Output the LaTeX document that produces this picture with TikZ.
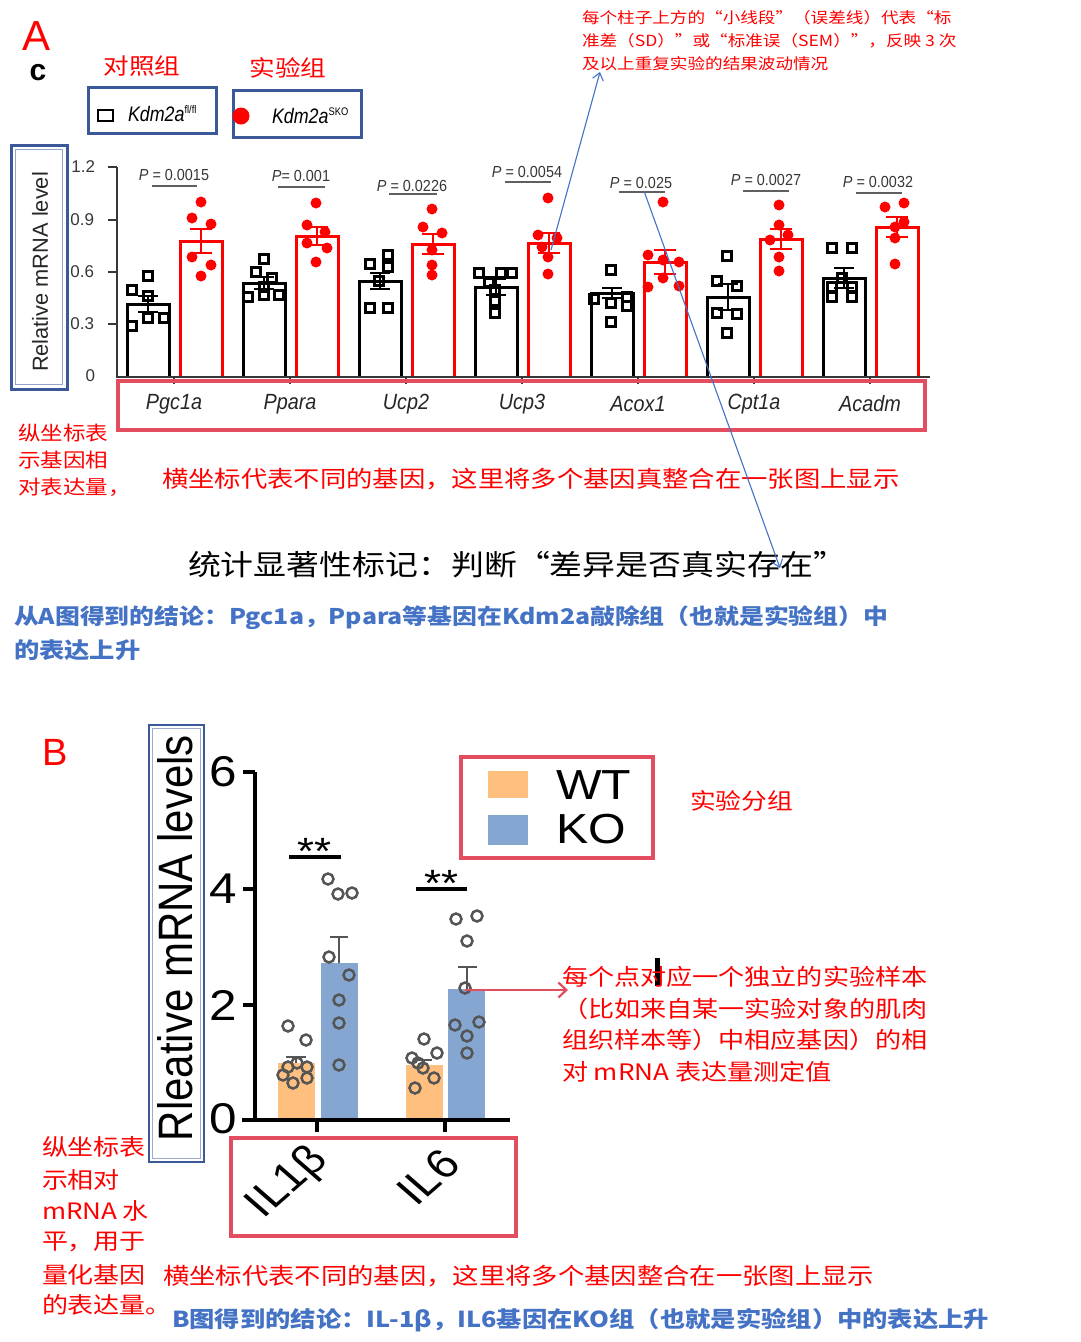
\documentclass[tikz,border=0pt]{standalone}
\usepackage{fontspec}
\setmainfont{Liberation Sans}
\newfontfamily\cjk{Noto Sans CJK SC}
\usetikzlibrary{arrows.meta}
\definecolor{boxred}{RGB}{226,78,96}
\definecolor{boxblue}{RGB}{59,89,152}
\definecolor{txtblue}{RGB}{68,114,196}
\definecolor{wtorange}{RGB}{255,191,127}
\definecolor{kobar}{RGB}{133,166,209}
\definecolor{ptgray}{RGB}{85,85,85}
\definecolor{axgray}{RGB}{55,55,55}
\newcommand\fsz[1]{\fontsize{#1}{#1}\selectfont}
\newcommand\grpA[5]{%
  \draw[black,line width=3,line join=miter] (#1-47,376) -- (#1-47,#2) -- (#1-5,#2) -- (#1-5,376);
  \draw[black,line width=2.5] (#1-26,#2-#3) -- (#1-26,#2+#3) (#1-36,#2-#3) -- (#1-16,#2-#3) (#1-36,#2+#3) -- (#1-16,#2+#3);
  \draw[red,line width=3,line join=miter] (#1+6,376) -- (#1+6,#4) -- (#1+48,#4) -- (#1+48,376);
  \draw[red,line width=2.5] (#1+27,#4-#5) -- (#1+27,#4+#5) (#1+16,#4-#5) -- (#1+38,#4-#5) (#1+16,#4+#5) -- (#1+38,#4+#5);
}
\begin{document}
\begin{tikzpicture}[x=1pt,y=-1pt,
  lbl/.style={inner sep=0pt,outer sep=0pt},
  st/.style={lbl,xscale=1.15},
  redline/.style={st,text=red,anchor=west},
  pval/.style={lbl,font=\fsz{16},xscale=0.9,text=axgray},
  pline/.style={draw=axgray!80,line width=1.2},
  gene/.style={lbl,font=\itshape\fsz{22},xscale=0.9,text=black!85},
  sqmark/.style={black,line width=2.2},
  circmark/.style={ptgray,line width=2.5},
  bluearrow/.style={txtblue,line width=1.1,-{Straight Barb[length=7pt,width=11pt]}},
  bticks/.style={lbl,font=\fsz{43},xscale=1.15},
]
\useasboundingbox (0,0) rectangle (1080,1342);
\fill[white] (0,0) rectangle (1080,1342);

%================ PANEL A =================
\node[lbl,text=red,font=\fsz{42}] (labA) at (37,36) {A};
\node[lbl,font=\bfseries\fsz{30}] (labc) at (38,73) {c};
\node[st,text=red,font=\cjk\fsz{22.3}] (ctrl) at (142,66) {对照组};
\node[st,text=red,font=\cjk\fsz{22.3}] (expg) at (288,68) {实验组};

% legend
\draw[boxblue,line width=3] (88,87) rectangle (216,133);
\draw[sqmark] (98,110) rectangle (113,121);
\node[lbl,anchor=west,font=\itshape\fsz{21},xscale=0.85] (leg1) at (128,114) {Kdm2a\raisebox{8pt}{\upshape\fsz{11}fl/fl}};
\draw[boxblue,line width=3] (233,90) rectangle (361,137);
\fill[red] (241,116) circle (8.5pt);
\node[lbl,anchor=west,font=\itshape\fsz{21},xscale=0.85] (leg2) at (272,116) {Kdm2a\raisebox{8pt}{\upshape\fsz{11}SKO}};

% axes
\draw[axgray,line width=1.5] (117,167) -- (117,377) -- (930,377);
\foreach \yy in {167,220,272,324} \draw[axgray,line width=1.5] (108,\yy) -- (117,\yy);
\foreach \xx in {174,290,406,522,638,754,870} \draw[axgray,line width=1.5] (\xx,377) -- (\xx,384);
\node[lbl,anchor=east,font=\fsz{17},text=axgray] (y12) at (95,167) {1.2};
\node[lbl,anchor=east,font=\fsz{17},text=axgray] (y09) at (94,220) {0.9};
\node[lbl,anchor=east,font=\fsz{17},text=axgray] (y06) at (94,272) {0.6};
\node[lbl,anchor=east,font=\fsz{17},text=axgray] (y03) at (94,324) {0.3};
\node[lbl,anchor=east,font=\fsz{17},text=axgray] (y00) at (95,376) {0};

% y label box A
\draw[boxblue,line width=3,fill=white] (11,145) rectangle (67,389);
\draw[boxblue!55,line width=1] (15.5,149.5) rectangle (62.5,384.5);
\node[lbl,rotate=90,font=\fsz{21.8},text=black!85] (ylabA) at (40,272) {Relative mRNA level};

% bars
\grpA{174}{304}{8}{241}{12}
\grpA{290}{283}{6}{236}{9}
\grpA{406}{281}{8}{244}{10}
\grpA{522}{287}{8}{243}{10}
\grpA{638}{293}{5}{262}{12}
\grpA{754}{297}{13}{239}{10}
\grpA{870}{278}{10}{227}{10}

% black squares
\foreach \x/\y in {148/276,132/290,148/296,132/326,148/318,164/318,
  264/259,256/272,272/278,264/287,248/297,264/295,279/295,
  388/255,370/264,388/267,379/281,370/308,388/308,
  479/273,489/282,501/273,512/273,495/301,495/313,495/290,
  611/270,594/299,611/303,627/297,627/306,611/322,
  727/256,717/281,737/286,717/313,737/314,727/333,
  832/248,852/248,832/287,852/287,832/297,852/297,842/278}
  \draw[sqmark] (\x-4.5,\y-4.5) rectangle (\x+4.5,\y+4.5);
% red dots
\foreach \x/\y in {201/202,192/218,211/224,192/257,211/265,201/276,
  316/203,307/225,325/232,307/243,327/248,316/262,
  432/209,423/227,442/233,432/250,432/265,432/275,
  548/198,538/235,557/238,542/247,548/257,548/274,
  663/202,648/255,663/260,679/262,663/278,648/287,679/286,
  779/205,779/225,770/240,788/235,779/257,779/271,
  885/207,904/203,904/222,895/227,895/238,895/264}
  \fill[red] (\x,\y) circle (5.5pt);

% p values
\node[pval] (p1) at (174,175) {\textit{P} = 0.0015};
\draw[pline] (152,186) -- (197,186);
\node[pval] (p2) at (301,176) {\textit{P}= 0.001};
\draw[pline] (278,187) -- (325,187);
\node[pval] (p3) at (412,186) {\textit{P} = 0.0226};
\draw[pline] (389,194) -- (437,194);
\node[pval] (p4) at (527,172) {\textit{P} = 0.0054};
\draw[pline] (505,182) -- (551,182);
\node[pval] (p5) at (641,183) {\textit{P} = 0.025};
\draw[pline] (619,192) -- (665,192);
\node[pval] (p6) at (766,180) {\textit{P} = 0.0027};
\draw[pline] (743,191) -- (789,191);
\node[pval] (p7) at (878,182) {\textit{P} = 0.0032};
\draw[pline] (856,193) -- (902,193);

% gene box
\draw[boxred,line width=4] (118,381) rectangle (925,430);
\node[gene] (g1) at (174,404) {Pgc1a};
\node[gene] (g2) at (290,404) {Ppara};
\node[gene] (g3) at (406,404) {Ucp2};
\node[gene] (g4) at (522,404) {Ucp3};
\node[gene] (g5) at (638,404) {Acox1};
\node[gene] (g6) at (754,404) {Cpt1a};
\node[gene] (g7) at (870,404) {Acadm};

% annotations A
\node[redline,font=\cjk\fsz{15.3}] (n1a) at (582,18) {每个柱子上方的“小线段”（误差线）代表“标};
\node[redline,font=\cjk\fsz{15.3}] (n1b) at (582,41) {准差（SD）”或“标准误（SEM）”，反映 3 次};
\node[redline,font=\cjk\fsz{15.3}] (n1c) at (582,64) {及以上重复实验的结果波动情况};

\node[redline,font=\cjk\fsz{19.6}] (n2a) at (18,433) {纵坐标表};
\node[redline,font=\cjk\fsz{19.6}] (n2b) at (18,460) {示基因相};
\node[redline,font=\cjk\fsz{19.6}] (n2c) at (18,487) {对表达量，};

\node[redline,font=\cjk\fsz{22.9}] (n3) at (162,479) {横坐标代表不同的基因，这里将多个基因真整合在一张图上显示};
\node[st,font=\cjk\fsz{28.6}] (n4) at (517,565) {统计显著性标记：判断“差异是否真实存在”};
\node[st,anchor=west,text=txtblue,font=\cjk\bfseries\fsz{21.6}] (n5a) at (14,618) {从A图得到的结论：Pgc1a，Ppara等基因在Kdm2a敲除组（也就是实验组）中};
\node[st,anchor=west,text=txtblue,font=\cjk\bfseries\fsz{22}] (n5b) at (14,650) {的表达上升};

% blue arrows
\coordinate (e1) at (551,250);
\coordinate (t1) at (600,72);
\draw[bluearrow] (e1) -- (t1);
\coordinate (e2) at (644,191);
\coordinate (t2) at (780,568);
\draw[bluearrow] (e2) -- (t2);

%================ PANEL B =================
\node[lbl,text=red,font=\fsz{38}] (labB) at (55,752) {B};

% bars
\fill[wtorange] (278,1063) rectangle (315,1120);
\fill[kobar] (321,963) rectangle (358,1120);
\fill[wtorange] (406,1065) rectangle (443,1120);
\fill[kobar] (448,989) rectangle (485,1120);

% error bars
\draw[ptgray,line width=2.5] (339,963) -- (339,937) (330,937) -- (348,937);
\draw[ptgray,line width=2.5] (296,1063) -- (296,1057) (286,1057) -- (306,1057);
\draw[ptgray,line width=2.5] (467,989) -- (467,967) (458,967) -- (477,967);
\draw[ptgray,line width=2.5] (424,1065) -- (424,1060) (416,1060) -- (432,1060);

% circles
\foreach \x/\y in {288/1026,306/1040,288/1067,297/1063,307/1067,283/1075,293/1083,307/1078,
  328/879,338/894,352/893,329/957,349/975,339/1000,339/1023,339/1065,
  424/1039,412/1058,437/1053,423/1068,434/1078,415/1088,418/1063,
  456/919,477/916,467/941,465/988,455/1025,479/1022,467/1036,467/1053}
  \draw[circmark] (\x,\y) circle (5.5pt);

% axes B
\draw[black,line width=3.5] (255,772) -- (255,1120);
\draw[black,line width=3.5] (242,1120) -- (510,1120);
\foreach \yy in {772,889,1005} \draw[black,line width=3.5] (243,\yy) -- (255,\yy);
\foreach \xx in {317,445} \draw[black,line width=3.5] (\xx,1120) -- (\xx,1132);
\node[bticks] (b6) at (223,772) {6};
\node[bticks] (b4) at (223,889) {4};
\node[bticks] (b2) at (223,1005) {2};
\node[bticks] (b0) at (223,1119) {0};

% significance
\draw[black,line width=3.5] (289,857) -- (341,857);
\node[lbl,anchor=base,font=\fsz{38},xscale=1.15] (s1) at (315,864) {**};
\draw[black,line width=3.5] (416,889) -- (467,889);
\node[lbl,anchor=base,font=\fsz{38},xscale=1.15] (s2) at (442,896) {**};

% y label box B
\draw[boxblue,line width=2] (149,725) rectangle (204,1162);
\draw[boxblue!50,line width=0.8] (152.5,728.5) rectangle (200.5,1158.5);
\node[lbl,xscale=1.15,rotate=90,font=\fsz{42}] (ylabB) at (175,938) {Rleative mRNA levels};

% legend B
\draw[boxred,line width=4] (461,757) rectangle (653,858);
\fill[wtorange] (488,771) rectangle (528,798);
\fill[kobar] (488,815) rectangle (528,845);
\node[lbl,anchor=west,font=\fsz{42},xscale=1.15] (wt) at (556,785) {WT};
\node[lbl,anchor=west,font=\fsz{42},xscale=1.15] (ko) at (556,829) {KO};
\node[redline,font=\cjk\fsz{22.4}] (grp) at (690,801) {实验分组};

% x label box B
\draw[boxred,line width=4] (231,1138) rectangle (516,1236);
\node[lbl,xscale=1.15,rotate=45,font=\fsz{41}] (il1) at (288,1183) {IL1β};
\node[lbl,xscale=1.15,rotate=45,font=\fsz{41}] (il6) at (428,1177) {IL6};

% red arrow and note
\coordinate (e3) at (465,990);
\coordinate (t3) at (568,990);
\draw[boxred,line width=2.2,-{Straight Barb[length=8pt,width=15pt]}] (e3) -- (t3);
\fill[black] (655,958) rectangle (659.5,986);
\node[redline,font=\cjk\fsz{22.7}] (n6a) at (562,977) {每个点对应一个独立的实验样本};
\node[redline,font=\cjk\fsz{22.7}] (n6b) at (562,1009) {（比如来自某一实验对象的肌肉};
\node[redline,font=\cjk\fsz{22.7}] (n6c) at (562,1040) {组织样本等）中相应基因）的相};
\node[redline,font=\cjk\fsz{22.7}] (n6d) at (562,1072) {对 mRNA 表达量测定值};

\node[redline,font=\cjk\fsz{22.6}] (n7a) at (42,1147) {纵坐标表};
\node[redline,font=\cjk\fsz{22.6}] (n7b) at (42,1180) {示相对};
\node[redline,font=\cjk\fsz{22.6}] (n7c) at (42,1211) {mRNA 水};
\node[redline,font=\cjk\fsz{22.6}] (n7d) at (42,1242) {平，用于};
\node[redline,font=\cjk\fsz{22.6}] (n7e) at (42,1275) {量化基因};
\node[redline,font=\cjk\fsz{22.6}] (n7f) at (42,1305) {的表达量。};

\node[redline,font=\cjk\fsz{22.9}] (n8) at (163,1276) {横坐标代表不同的基因，这里将多个基因整合在一张图上显示};
\node[st,anchor=west,text=txtblue,font=\cjk\bfseries\fsz{22}] (n9) at (172,1320) {B图得到的结论：IL-1β，IL6基因在KO组（也就是实验组）中的表达上升};
\end{tikzpicture}
\end{document}
